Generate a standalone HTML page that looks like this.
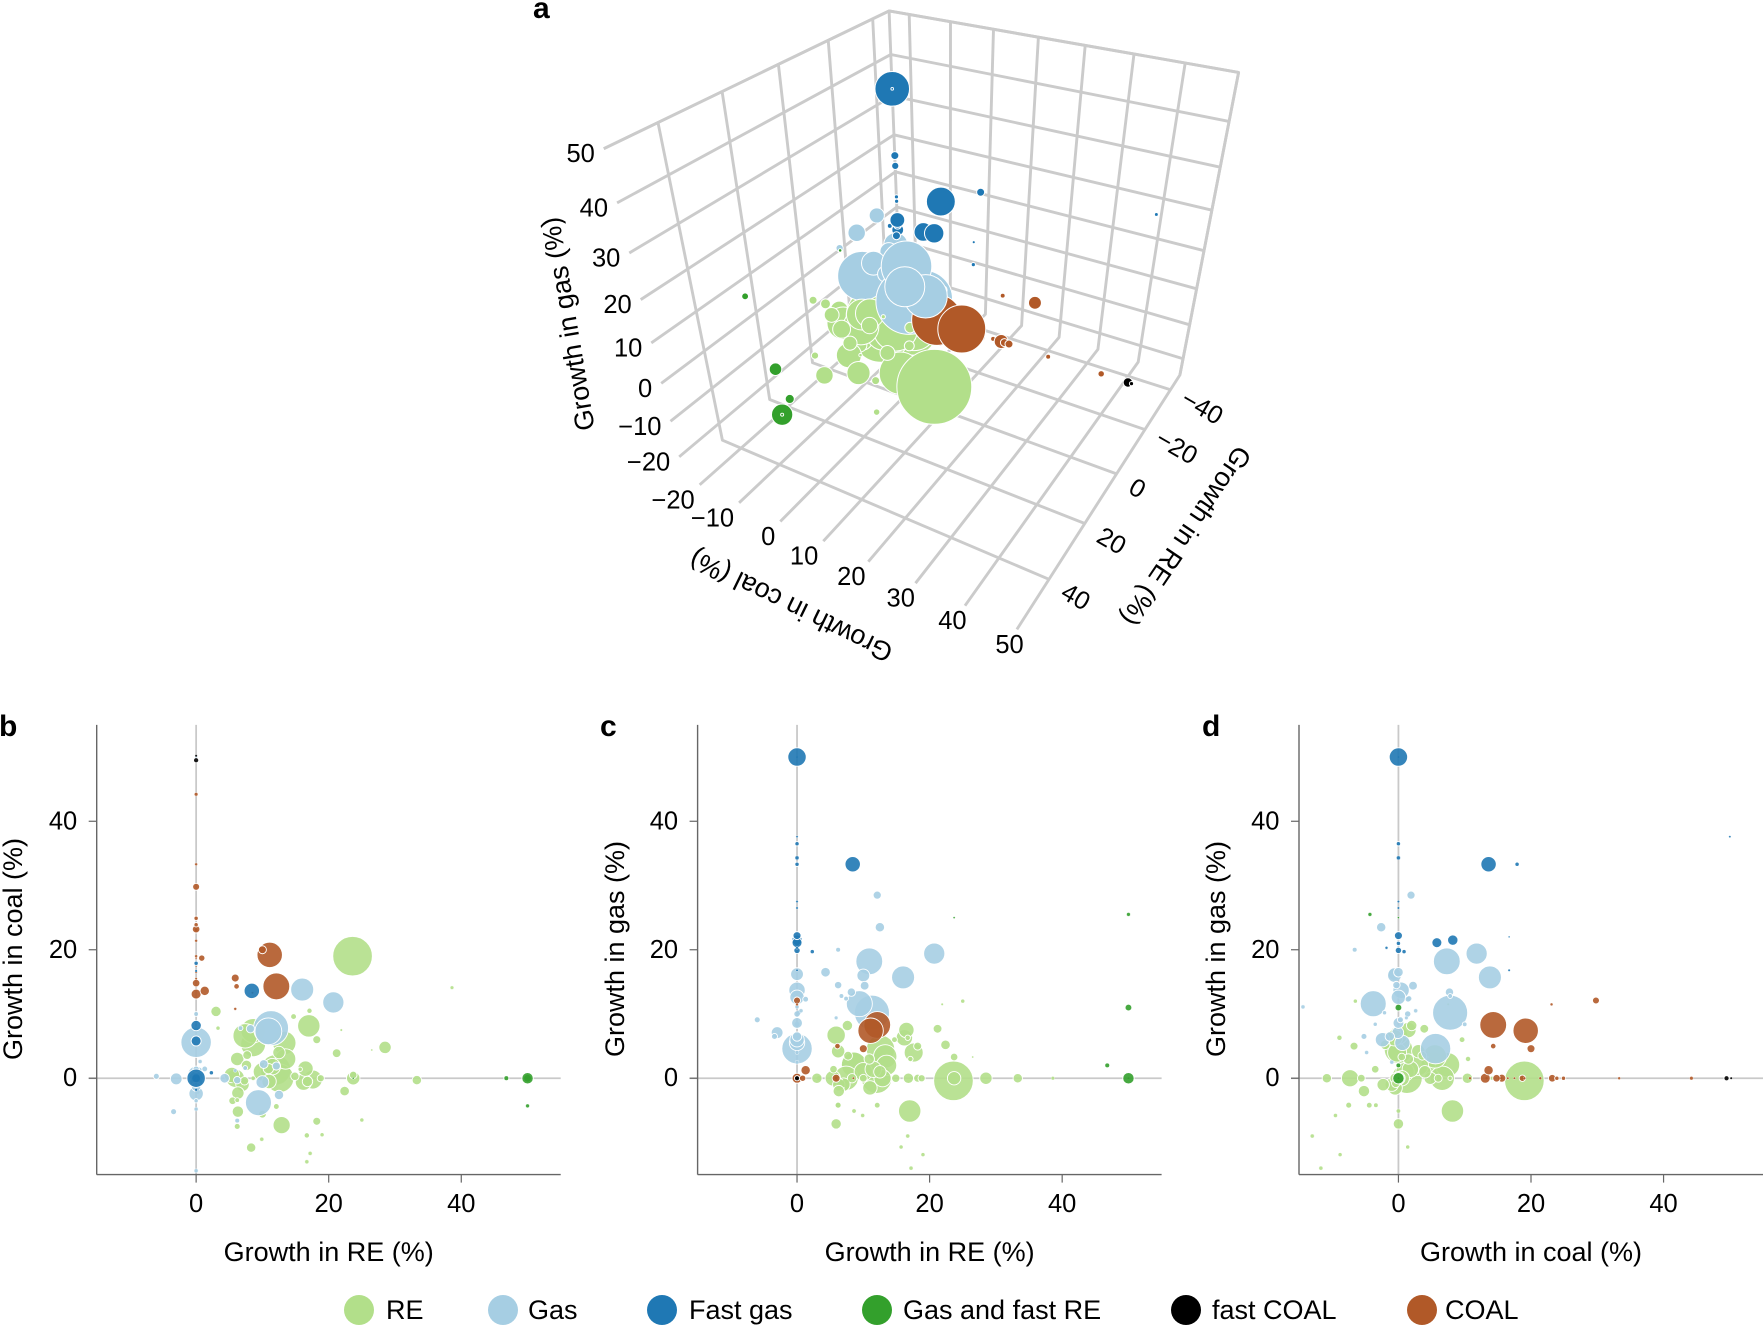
<!DOCTYPE html>
<html lang="en">
<head>
<meta charset="utf-8">
<title>Growth in RE, gas and coal</title>
<style>
html,body{margin:0;padding:0;background:#fff;}
svg{display:block;font-family:"Liberation Sans",sans-serif;}
.tick{font-size:25.5px;fill:#000;}
.title{font-size:27px;fill:#000;}
.letter{font-size:30px;font-weight:bold;fill:#000;}
</style>
</head>
<body>
<svg id="chart" xmlns="http://www.w3.org/2000/svg" width="1763" height="1326" viewBox="0 0 1763 1326">
  <rect width="1763" height="1326" fill="#fff"/>
  <g id="panelA"></g>
  <g id="panelB"></g>
  <g id="panelC"></g>
  <g id="panelD"></g>
  <g id="legend"></g>
</svg>
<script>
const seriesNames = ['RE','Gas','Fast gas','Gas and fast RE','fast COAL','COAL'];

const reValues = [
 [23.6,17,12,8.6,8.6,12.6,7.4,13.3,17.6,16.2,5.9,5.4,12.9,8.3,3,28.5,33.3,23.7,21.2,22.4,18.2,18.2,16.7,19,17.2,15.7,5.9,6.2,12.1,8.6,7.6,16.5,6.2,14.7,17.1,7.7,38.6,25,5.5,10,6.3,6.3,16.8,14.9,18.8,3.3,9.9,6.2,23.7,7.3,11,10,7,11.5,13.5,26.5,21.9,16.7,10.9,12.5],
 [11.3,0,16,20.7,10.9,9.4,-3,4.3,-6,-3.4,0,0,0,0,12.5,12.1,10.2,10,8.2,6.2,6.2,7.4,6.7,0,0,1.3,0,0,0,0,0.2,0,5.9,0.6,0,0],
 [0,8.4,0,0,0,0,0,0,0,2.3,0,0,0,0,0,0,0,0],
 [50,46.8,50,50,23.7,50],
 [0,0],
 [11.1,12.1,0,0,0,0,0,0,0,1.3,0.85,0,0,5.9,6.1,5.9,10,0,0,0,0,0,0,8.5]
];
const coalValues = [
 [19,8.15,1.3,5.3,7.4,0,6.6,5.5,-0.2,-0.6,0,0.5,-7.3,-10.8,10.4,4.8,-0.3,0,3.9,-2,6,-6.7,-8.9,-8.8,-11.7,1.4,0,-7.5,-4.4,0,2,1.5,3,9.6,10.5,3.6,14.1,-6.5,-3.5,-5.6,-5.2,-2.3,-0.5,0.3,0,7.8,-9.5,-3.4,0.5,-0.4,-0.5,1,-1,1.8,3,4.4,7.5,-13,1.5,4],
 [7.8,5.6,13.8,11.8,7.3,-3.8,-0.1,0,0.3,-5.2,-2.4,0,0.4,-0.6,-2.6,1.9,2.2,-0.6,7.7,-0.3,-6.6,1.6,7.8,-14.4,10,1.45,0,0.6,-1.3,-3.5,-2.1,1.4,1.2,2.6,-1,-4.8],
 [0,13.6,8.2,5.8,0,0,0,0,17.9,0.85,50,16.7,16.7,0,-1.8,0,0,0],
 [0,0,-4.3,0,0,0],
 [49.5,50.2],
 [19.2,14.3,29.8,44.2,33.3,23.2,24.9,23.9,21.4,13.6,18.7,14.8,13.1,15.6,14.3,10.8,20,23.1,19,18.7,17.5,16.5,15.5,13.3]
];
const gasValues = [
 [-0.4,-5.1,0,2.1,2.1,4.5,0,3.4,4,6.3,6.7,0,0,0,0,0,0,0,7.7,5.2,0,5,6.3,-11.9,-14,-10.7,-7.1,-4.2,-4.2,-5.1,8.2,7.5,4.2,6,3,3.5,0,12,1.4,0,-2,-1,0,0,0,0,-5.8,-4.2,3.3,-0.8,-1.5,1,-1,1.4,2,3.3,11.5,-9,3,1],
 [10.2,4.6,15.7,19.4,18.2,11.6,7.1,16.5,9.1,6.5,6,8.6,13.7,16.2,23.5,28.5,14.4,16,13.4,14.5,20,12.4,12.8,11.1,8.4,12.3,12.6,5.5,6.5,8.4,10.2,10,9.4,10.5,2.5,4],
 [50,33.3,21.5,21.1,22.2,19.9,36.5,34.3,33.3,19.7,37.6,16.8,22,21,20.3,27.5,26.5,50],
 [0,2,25.5,11,25,0],
 [0,0],
 [7.4,8.3,12.1,0,0,0,0,0,0,1.25,0,0,0,0,5,0,4.6,11.5,0,0,0,0,0,0]
];
const sizeValues = [
 [19.6,11,15,12.3,12,14,12,11.5,9.3,8,9,7.5,8.4,4.5,5,6,4.5,6.5,4.2,4.6,3.8,3.8,2.5,2,1.8,2,5,2.8,2.7,1.9,5,7.5,6.5,2.7,2.5,4.2,1.6,2,3.6,3.7,5.5,6,5,4,3.4,2,1.8,2.2,3.6,4,7,9,6.5,8,10,0.8,1,1.8,5,6],
 [17.3,15,11.3,10.4,13.2,12.8,5.7,4.6,2.8,2.8,7,5.2,8,6.2,4.5,3.9,4.2,6.2,4,3.5,2.3,2.2,2.2,1.8,2.2,2.7,7,7.5,4.5,2,2,3,1.6,1.8,1.8,1.8],
 [9,7.5,5,4.8,3.8,3,2,1.8,2,2,0.9,1,0.7,2,1.2,1,1,0.6],
 [5.5,2.3,1.7,3.2,0.8,0.7],
 [2.4,1],
 [12.5,13.2,3.3,1.6,1.2,3.6,2,2,1.2,4.5,3,3.6,4.8,3.8,2.6,1.2,3.8,1.2,1.2,0.8,1,1,1,1]
];

const xTickValues = [0,20,40];
const yTickValues = [0,20,40];
const gasTicks3d = [50,40,30,20,10,0,-10,-20];
const coalTicks3d = [-20,-10,0,10,20,30,40,50];
const reTicks3d = [-40,-20,0,20,40];

/* presentation */
const seriesColors = ['#b2df8a','#a6cee3','#1f78b4','#33a02c','#000000','#b15928'];
const drawOrder = [0,1,5,2,3,4];
const NS = 'http://www.w3.org/2000/svg';
const fmt = v => String(v).replace('-', '\u2212');

function make(parent, tag, attrs, text) {
  const el = document.createElementNS(NS, tag);
  for (const k in attrs) el.setAttribute(k, attrs[k]);
  if (text !== undefined) el.textContent = text;
  parent.appendChild(el);
  return el;
}

/* points flattened */
function allPoints() {
  const out = [];
  seriesNames.forEach((name, s) => {
    reValues[s].forEach((_, i) => {
      out.push({s, name, re: reValues[s][i], coal: coalValues[s][i], gas: gasValues[s][i], size: sizeValues[s][i]});
    });
  });
  return out;
}

/* ---------- 2D panels ---------- */
const AX_TOP = 724.9, AX_BOTTOM = 1174.6, AX_W = 464, DOM_MIN = -15, DOM_MAX = 55;
const yScale = v => AX_BOTTOM - (v - DOM_MIN) / (DOM_MAX - DOM_MIN) * (AX_BOTTOM - AX_TOP);

function drawPanel(rootId, left, xKey, yKey, xTitle, yTitle, yTitleX, letter, letterX) {
  const root = document.getElementById(rootId);
  const xScale = v => left + (v - DOM_MIN) / (DOM_MAX - DOM_MIN) * AX_W;
  const right = left + AX_W;

  const lh = make(root, 'line', {x1: left - 8, x2: right, y1: yScale(0), y2: yScale(0), stroke: '#c9c9c9', 'stroke-width': 1.8});
  
  
  const lv = make(root, 'line', {x1: xScale(0), x2: xScale(0), y1: AX_TOP, y2: AX_BOTTOM, stroke: '#c9c9c9', 'stroke-width': 1.8});
  
  

  const ay = make(root, 'line', {x1: left, x2: left, y1: AX_TOP, y2: AX_BOTTOM, stroke: '#666', 'stroke-width': 1.4});
  
  
  const ax = make(root, 'line', {x1: left, x2: right, y1: AX_BOTTOM, y2: AX_BOTTOM, stroke: '#666', 'stroke-width': 1.4});
  
  

  xTickValues.forEach(t => {
    const m = make(root, 'line', {x1: xScale(t), x2: xScale(t), y1: AX_BOTTOM, y2: AX_BOTTOM + 8, stroke: '#666', 'stroke-width': 1.2});
    
    
    const l = make(root, 'text', {x: xScale(t), y: 1212, 'text-anchor': 'middle', class: 'tick'}, fmt(t));
    
    
  });
  yTickValues.forEach(t => {
    const m = make(root, 'line', {x1: left - 8, x2: left, y1: yScale(t), y2: yScale(t), stroke: '#666', 'stroke-width': 1.2});
    
    
    const l = make(root, 'text', {x: left - 19.5, y: yScale(t) + 8, 'text-anchor': 'end', class: 'tick'}, fmt(t));
    
    
  });

  const pts = allPoints().sort((a, b) => (drawOrder.indexOf(a.s) - drawOrder.indexOf(b.s)) || (b.size - a.size));
  pts.forEach((p, idx) => {
    /* a bubble stacked exactly on a larger one of its own series shows no white outline */
    const stacked = pts.slice(0, idx).some(q => q.s === p.s &&
      Math.abs(q[xKey] - p[xKey]) < 0.3 && Math.abs(q[yKey] - p[yKey]) < 0.3);
    const c = make(root, 'circle', {cx: xScale(p[xKey]), cy: yScale(p[yKey]), r: p.size + 0.2, fill: seriesColors[p.s], 'fill-opacity': 0.9, stroke: stacked ? 'none' : '#fff', 'stroke-width': p.size < 2 ? 0.35 : 0.9});
    
    
  });

  const tx = make(root, 'text', {x: left + 232, y: 1261, 'text-anchor': 'middle', class: 'title'}, xTitle);
  
  
  const ty = make(root, 'text', {x: 0, y: 0, 'text-anchor': 'middle', class: 'title', transform: 'translate(' + yTitleX + ',949) rotate(-90)'}, yTitle);
  
  
  const pl = make(root, 'text', {x: letterX, y: 736, class: 'letter'}, letter);
  
  
}

drawPanel('panelB', 96.7, 're', 'coal', 'Growth in RE (%)', 'Growth in coal (%)', 22, 'b', -1);
drawPanel('panelC', 697.6, 're', 'gas', 'Growth in RE (%)', 'Growth in gas (%)', 624, 'c', 600);
drawPanel('panelD', 1299, 'coal', 'gas', 'Growth in coal (%)', 'Growth in gas (%)', 1225, 'd', 1202);

/* ---------- 3D panel ---------- */
const COAL_MIN = -25, COAL_MAX = 50, RE_MIN = -48, RE_MAX = 56, RE_WALL_END = 55, GAS_MIN = -25, GAS_MAX = 50;
/* camera calibration: box corners (coal, re, gas) to screen */
const viewCalibration = [
  [-25,-48,50, 889.3,9.3],
  [50,-48,50, 1238.3,73.3],
  [50,-48,-25, 1180,373],
  [-25,-48,-25, 900,290],
  [-25,40,50, 658.2,123.6],
  [-25,40,-25, 722,438],
  [50,40,-25, 1049.3,581]
];
function solveCamera(cal) {
  const rows = [], rhs = [];
  cal.forEach(c => {
    const X = c[0]/50, Y = c[1]/50, Z = c[2]/50, u = c[3]/1000, v = c[4]/1000;
    rows.push([X,Y,Z,1,0,0,0,0,-u*X,-u*Y,-u*Z]); rhs.push(u);
    rows.push([0,0,0,0,X,Y,Z,1,-v*X,-v*Y,-v*Z]); rhs.push(v);
  });
  const n = 11, A = [];
  for (let i = 0; i < n; i++) {
    A.push(new Array(n + 1).fill(0));
    for (let j = 0; j < n; j++) rows.forEach(r => { A[i][j] += r[i] * r[j]; });
    rows.forEach((r, k) => { A[i][n] += r[i] * rhs[k]; });
    A[i][i] += 1e-10;
  }
  for (let i = 0; i < n; i++) {
    let piv = i;
    for (let k = i + 1; k < n; k++) if (Math.abs(A[k][i]) > Math.abs(A[piv][i])) piv = k;
    const tmp = A[i]; A[i] = A[piv]; A[piv] = tmp;
    for (let k = 0; k < n; k++) {
      if (k === i) continue;
      const f = A[k][i] / A[i][i];
      for (let j = i; j <= n; j++) A[k][j] -= f * A[i][j];
    }
  }
  return A.map((r, i) => r[n] / r[i]);
}
const cam = solveCamera(viewCalibration);
function project(coal, re, gas) {
  const X = coal/50, Y = re/50, Z = gas/50;
  const w = cam[8]*X + cam[9]*Y + cam[10]*Z + 1;
  return {
    x: 1000 * (cam[0]*X + cam[1]*Y + cam[2]*Z + cam[3]) / w,
    y: 1000 * (cam[4]*X + cam[5]*Y + cam[6]*Z + cam[7]) / w,
    w
  };
}
function polyPoints(list) {
  return list.map(a => { const p = project(a[0], a[1], a[2]); return p.x.toFixed(1) + ',' + p.y.toFixed(1); }).join(' ');
}
const gridStyle = {fill: 'none', stroke: '#cbcbcb', 'stroke-width': 2.9, 'stroke-linejoin': 'round'};
(function drawPanelA() {
  const root = document.getElementById('panelA');
  const gridG = make(root, 'g', {});
  
  

  gasTicks3d.forEach(g => {
    const l = make(gridG, 'polyline', Object.assign({points: polyPoints([[COAL_MIN,RE_WALL_END,g],[COAL_MIN,RE_MIN,g],[COAL_MAX,RE_MIN,g]])}, gridStyle));
    
    
  });
  coalTicks3d.forEach(c => {
    const l = make(gridG, 'polyline', Object.assign({points: polyPoints([[c,RE_MIN,GAS_MAX],[c,RE_MIN,GAS_MIN],[c,RE_MAX,GAS_MIN]])}, gridStyle));
    
    
  });
  reTicks3d.forEach(r => {
    const l = make(gridG, 'polyline', Object.assign({points: polyPoints([[COAL_MIN,r,GAS_MAX],[COAL_MIN,r,GAS_MIN],[COAL_MAX,r,GAS_MIN]])}, gridStyle));
    
    
  });
  const topEdge = make(gridG, 'polyline', Object.assign({points: polyPoints([[COAL_MIN,RE_WALL_END,GAS_MAX],[COAL_MIN,RE_MIN,GAS_MAX],[COAL_MAX,RE_MIN,GAS_MAX],[COAL_MAX,RE_MIN,GAS_MIN]])}, gridStyle));
  
  
  const backEdge = make(gridG, 'polyline', Object.assign({points: polyPoints([[COAL_MIN,RE_MIN,GAS_MAX],[COAL_MIN,RE_MIN,GAS_MIN]])}, gridStyle));
  
  

  allPoints().map(p => Object.assign(p, {pr: project(p.coal, p.re, p.gas)}))
    .sort((a, b) => (b.pr.w - a.pr.w) || (b.size - a.size))
    .forEach(p => {
      const c = make(root, 'circle', {cx: p.pr.x, cy: p.pr.y, r: p.size * 1.9 + 0.2, fill: seriesColors[p.s], stroke: '#fff', 'stroke-width': p.size < 1 ? 0.9 : 1});
      
      
    });

  gasTicks3d.forEach(g => {
    const p = project(COAL_MIN, RE_WALL_END, g);
    const t = make(root, 'text', {x: p.x - 9, y: p.y + 13.5, 'text-anchor': 'end', class: 'tick'}, fmt(g));
    
    
  });
  coalTicks3d.forEach(c => {
    const p = project(c, RE_MAX, GAS_MIN);
    const t = make(root, 'text', {x: p.x - 5 + Math.max(0, c - 10) * 0.22 + (c === 50 ? 3 : 0), y: p.y + 23.5, 'text-anchor': 'end', class: 'tick'}, fmt(c));
    
    
  });
  reTicks3d.forEach(r => {
    const p = project(COAL_MAX, r, GAS_MIN);
    const len = fmt(r).length;
    const dx = len === 3 ? 32 : len === 2 ? 27 : 21;
    const dy = len === 3 ? 17 : len === 2 ? 17 : 14;
    const t = make(root, 'text', {x: 0, y: 9, 'text-anchor': 'middle', class: 'tick', transform: 'translate(' + (p.x + dx) + ',' + (p.y + dy) + ') rotate(30)'}, fmt(r));
    
    
  });

  const gasTitle = make(root, 'text', {x: 0, y: 9, 'text-anchor': 'middle', class: 'title', transform: 'translate(568,324) rotate(-99.6)'}, 'Growth in gas (%)');
  
  
  const coalTitle = make(root, 'text', {x: 0, y: 9, 'text-anchor': 'middle', class: 'title', transform: 'translate(791,606) rotate(206)'}, 'Growth in coal (%)');
  
  
  const reTitle = make(root, 'text', {x: 0, y: 9, 'text-anchor': 'middle', class: 'title', transform: 'translate(1186,536) rotate(124)'}, 'Growth in RE (%)');
  
  
  const letter = make(root, 'text', {x: 533, y: 18, class: 'letter'}, 'a');
  
  
})();

/* ---------- legend ---------- */
const legendSwatchX = [359, 503, 662, 877, 1186, 1422];
const legendLabelX = [386, 528, 689, 903, 1212, 1445];
(function drawLegend() {
  const root = document.getElementById('legend');
  seriesNames.forEach((name, i) => {
    const g = make(root, 'g', {});
    
    
    const c = make(g, 'circle', {cx: legendSwatchX[i], cy: 1310, r: 15, fill: seriesColors[i]});
    
    
    const t = make(g, 'text', {x: legendLabelX[i], y: 1319, class: 'title'}, name);
    
    
  });
})();
</script>
</body>
</html>
